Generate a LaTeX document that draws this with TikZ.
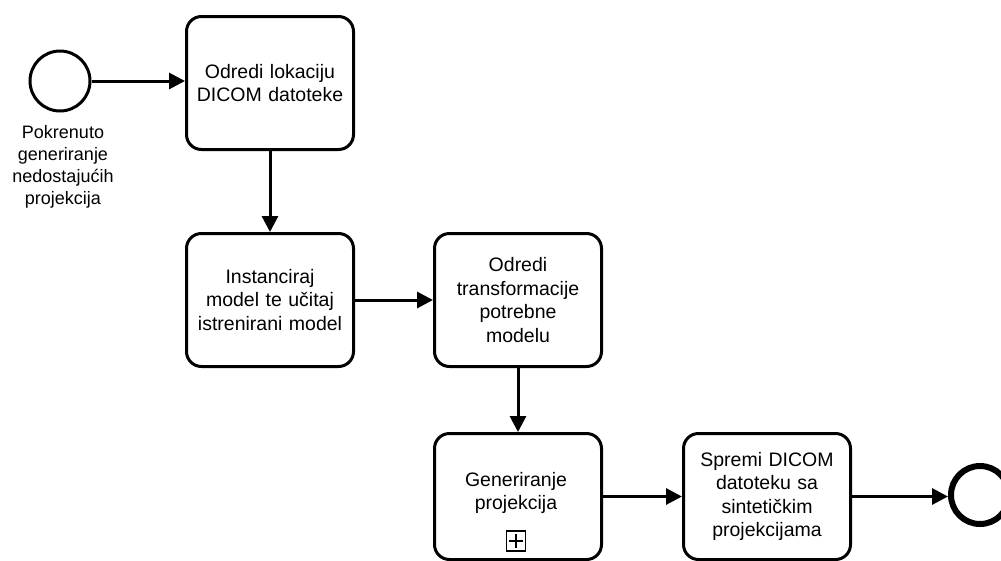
\documentclass[tikz,border=0pt]{standalone}
\usepackage{fontspec}
\setmainfont{Liberation Sans}
\usetikzlibrary{arrows.meta}
\begin{document}
\begin{tikzpicture}[x=1pt,y=-1pt,
  task/.style={draw=black, line width=3pt, rounded corners=15pt, fill=white,
    minimum width=167pt, minimum height=133pt, align=center, inner sep=0pt,
    font=\fontsize{19.5}{23.5}\selectfont, anchor=north west},
  flow/.style={line width=3pt, -{Triangle[length=16pt,width=16pt]}},
  evstart/.style={draw=black, circle, line width=3pt, minimum size=60pt, inner sep=0pt},
  evend/.style={draw=black, circle, line width=6pt, minimum size=58pt, inner sep=0pt},
  lbl/.style={align=center, font=\fontsize{18}{22}\selectfont}
]
\useasboundingbox (0,0) rectangle (1001,560);
\node[evstart] (s) at (60,81) {};
\node[lbl, anchor=north] (sl) at (63,122) {Pokrenuto\\generiranje\\nedostajućih\\projekcija};
\node[task, text width=160pt] (t1) at (185,15) {Odredi lokaciju\\DICOM datoteke};
\node[task, text width=160pt] (t2) at (185,232) {Instanciraj\\model te učitaj\\istrenirani model};
\node[task, text width=160pt] (t3) at (433,232) {Odredi\\transformacije\\potrebne\\modelu};
\node[task, minimum height=126pt] (t4) at (433,432) {};
\node[align=center, font=\fontsize{19.5}{23.5}\selectfont] (t4t) at (516,493) {Generiranje\\projekcija};
\node[draw=black, line width=1.5pt, minimum width=19pt, minimum height=20pt, inner sep=0pt] (m) at (516,541) {};
\draw[line width=2.5pt] ([xshift=-7pt]m.center) -- ([xshift=7pt]m.center);
\draw[line width=2.5pt] ([yshift=-7pt]m.center) -- ([yshift=7pt]m.center);
\node[task, text width=160pt, minimum height=126pt] (t5) at (682,432) {Spremi DICOM\\datoteku sa\\sintetičkim\\projekcijama};
\node[evend] (e) at (980,495) {};
\draw[flow] (s.east) -- (t1.west |- s.east);
\draw[flow] (t1.south) -- (t2.north);
\draw[flow] (t2.east) -- (t3.west);
\draw[flow] (t3.south) -- (t4.north);
\draw[flow] (t4.east) -- (t5.west);
\draw[flow] (t5.east) -- (e.west |- t5.east);
\end{tikzpicture}
\end{document}
